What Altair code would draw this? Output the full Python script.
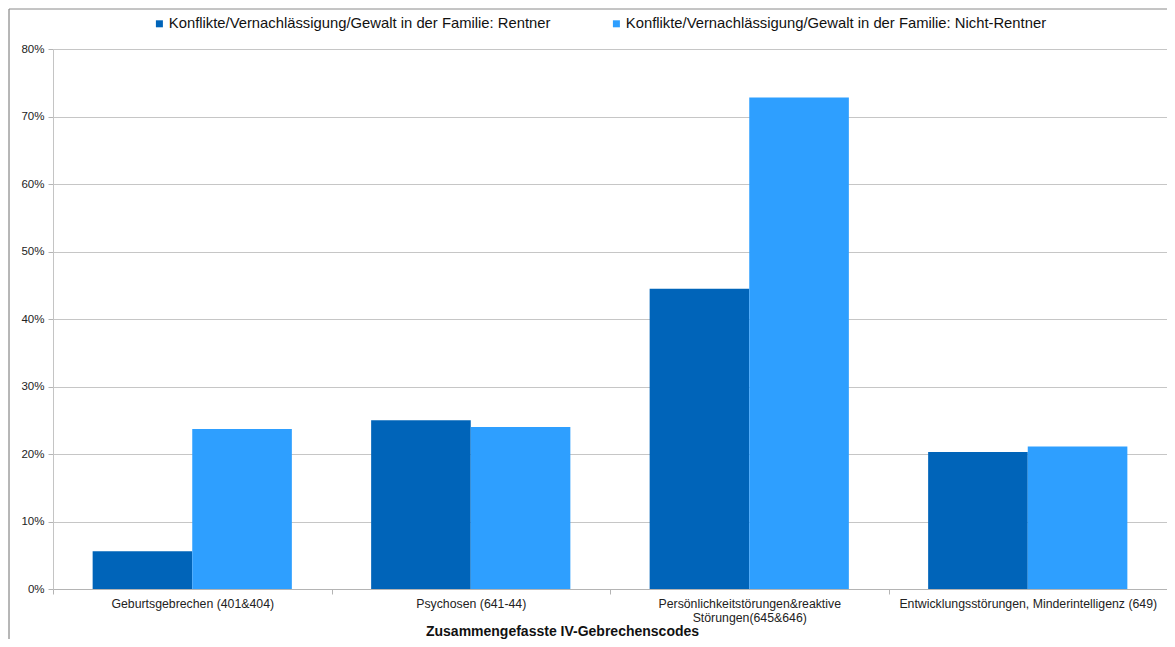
import altair as alt
import pandas as pd

categories = [
    "Geburtsgebrechen (401&404)",
    "Psychosen (641-44)",
    "Persönlichkeitstörungen&reaktive\nStörungen(645&646)",
    "Entwicklungsstörungen, Minderintelligenz (649)",
]
series = [
    "Konflikte/Vernachlässigung/Gewalt in der Familie: Rentner",
    "Konflikte/Vernachlässigung/Gewalt in der Familie: Nicht-Rentner",
]
rentner = [5.6, 25.0, 44.5, 20.3]
nicht_rentner = [23.7, 24.0, 72.8, 21.1]
colors = ["#0064b9", "#2e9fff"]
y_ticks = [0, 0.1, 0.2, 0.3, 0.4, 0.5, 0.6, 0.7, 0.8]

rows = []
for c, a, b in zip(categories, rentner, nicht_rentner):
    rows.append({"cat": c, "series": series[0], "val": a / 100})
    rows.append({"cat": c, "series": series[1], "val": b / 100})
df = pd.DataFrame(rows)

W, H = 1114, 540
FONT = "Liberation Sans"

bars = alt.Chart(df).mark_bar().encode(
    x=alt.X(
        "cat:N",
        sort=categories,
        scale=alt.Scale(paddingInner=0, paddingOuter=0),
        axis=alt.Axis(
            title="Zusammengefasste IV-Gebrechenscodes",
            labelAngle=0,
            labelExpr="split(datum.label, '\\n')",
            tickBand="extent",
            tickSize=5,
            labelPadding=3,
            labelLimit=400,
            labelFontSize=12.3,
            labelColor="#222222",
            labelFont=FONT,
            domainColor="#b4b4b4",
            tickColor="#b4b4b4",
            grid=False,
            titleFont=FONT,
            titleFontSize=14,
            titleFontWeight="bold",
            titleColor="#111111",
            titleX=509,
            titleY=42,
            titleAnchor="start",
            titleAlign="center",
            titleBaseline="middle",
        ),
    ),
    xOffset=alt.XOffset(
        "series:N",
        sort=series,
        scale=alt.Scale(paddingInner=0, paddingOuter=0.398),
    ),
    y=alt.Y(
        "val:Q",
        scale=alt.Scale(domain=[0, 0.8], nice=False),
        axis=alt.Axis(
            title=None,
            format=".0%",
            values=y_ticks,
            tickSize=5,
            labelPadding=4,
            labelFontSize=11.5,
            labelColor="#222222",
            labelFont=FONT,
            domainColor="#c4c4c4",
            tickColor="#b4b4b4",
            gridColor="#c6c6c6",
        ),
    ),
    color=alt.Color(
        "series:N",
        sort=series,
        scale=alt.Scale(domain=series, range=colors),
        legend=alt.Legend(
            title=None,
            orient="none",
            direction="horizontal",
            legendX=99,
            legendY=-33,
            symbolType="square",
            symbolSize=49,
            symbolStrokeWidth=0,
            labelFontSize=14.8,
            labelFont=FONT,
            labelColor="#111111",
            labelLimit=600,
            labelOffset=2,
            columnPadding=58,
            padding=0,
        ),
    ),
)

frame_src = alt.Data(values=[{"k": 1}])
left_border = alt.Chart(frame_src).mark_rule(color="#6e6e6e", strokeWidth=1).encode(
    x=alt.value(-44), y=alt.value(-40), y2=alt.value(H + 60)
)
top_border = alt.Chart(frame_src).mark_rule(color="#8a8a8a", strokeWidth=1).encode(
    x=alt.value(-44), x2=alt.value(W), y=alt.value(-40)
)

chart = (
    alt.layer(bars, left_border, top_border)
    .properties(
        width=W,
        height=H,
        autosize=alt.AutoSizeParams(type="none"),
        padding={"left": 45, "top": 41, "right": 0, "bottom": 50},
        background="white",
    )
    .configure_view(stroke=None)
)

chart.save("out.html", embed_options={"renderer": "svg", "actions": False})
